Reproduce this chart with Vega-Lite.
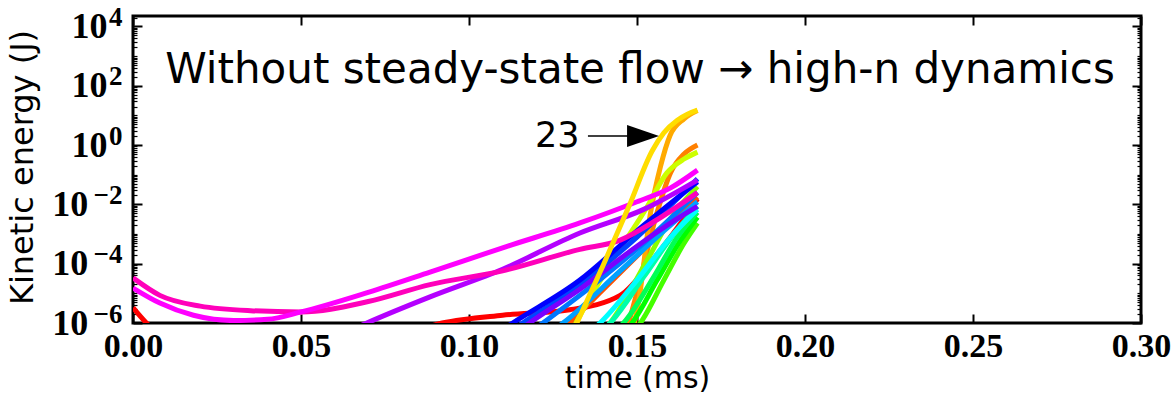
{
  "$schema": "https://vega.github.io/schema/vega-lite/v6.json",
  "width": 1008,
  "height": 307,
  "autosize": {"type": "none"},
  "padding": {"left": 133, "top": 16, "right": 33, "bottom": 81},
  "background": "white",
  "config": {"view": {"stroke": "black", "strokeWidth": 3}},
  "datasets": {
    "lines": [
      {"mode": "1", "t": 0, "E": 3.29e-6}, {"mode": "1", "t": 0.004, "E": 1.0e-6}, {"mode": "1", "t": 0.012, "E": 2.5e-7}, {"mode": "1", "t": 0.04, "E": 1.0e-7}, {"mode": "1", "t": 0.07, "E": 1.6e-7}, {"mode": "1", "t": 0.092, "E": 1.0e-6}, {"mode": "1", "t": 0.11, "E": 1.84e-6}, {"mode": "1", "t": 0.13, "E": 2.8e-6}, {"mode": "1", "t": 0.145, "E": 8.5e-6}, {"mode": "1", "t": 0.155, "E": 1.5e-4}, {"mode": "1", "t": 0.162, "E": 1.62e-3}, {"mode": "1", "t": 0.168, "E": 1.53e-2},
      {"mode": "2", "t": 0.125, "E": 2.5e-7}, {"mode": "2", "t": 0.13, "E": 1e-6}, {"mode": "2", "t": 0.14, "E": 1.38e-5}, {"mode": "2", "t": 0.152, "E": 3.04e-4}, {"mode": "2", "t": 0.16, "E": 2.35e-3}, {"mode": "2", "t": 0.168, "E": 1.76e-2},
      {"mode": "3", "t": 0.145, "E": 1e-7}, {"mode": "3", "t": 0.15, "E": 1.085e-5}, {"mode": "3", "t": 0.156, "E": 5.4e-3}, {"mode": "3", "t": 0.16, "E": 0.118}, {"mode": "3", "t": 0.164, "E": 0.5}, {"mode": "3", "t": 0.168, "E": 1.01},
      {"mode": "4", "t": 0.147, "E": 1e-7}, {"mode": "4", "t": 0.1505, "E": 5.3e-6}, {"mode": "4", "t": 0.1539, "E": 4.26e-3}, {"mode": "4", "t": 0.157, "E": 0.19}, {"mode": "4", "t": 0.1598, "E": 2.07}, {"mode": "4", "t": 0.164, "E": 7.7}, {"mode": "4", "t": 0.168, "E": 14.6},
      {"mode": "6", "t": 0.129, "E": 2.5e-7}, {"mode": "6", "t": 0.1339, "E": 2.7e-6}, {"mode": "6", "t": 0.1428, "E": 1.32e-4}, {"mode": "6", "t": 0.153, "E": 8.2e-3}, {"mode": "6", "t": 0.1589, "E": 0.116}, {"mode": "6", "t": 0.164, "E": 0.34}, {"mode": "6", "t": 0.168, "E": 0.58},
      {"mode": "7", "t": 0.138, "E": 3.2e-7}, {"mode": "7", "t": 0.142, "E": 1e-6}, {"mode": "7", "t": 0.1528, "E": 1.18e-4}, {"mode": "7", "t": 0.16, "E": 3.3e-3}, {"mode": "7", "t": 0.168, "E": 4.0e-2},
      {"mode": "8", "t": 0.147, "E": 3.2e-7}, {"mode": "8", "t": 0.151, "E": 1e-6}, {"mode": "8", "t": 0.158, "E": 2.8e-5}, {"mode": "8", "t": 0.164, "E": 4.9e-4}, {"mode": "8", "t": 0.168, "E": 2.35e-3},
      {"mode": "9", "t": 0.144, "E": 3.2e-7}, {"mode": "9", "t": 0.1485, "E": 1e-6}, {"mode": "9", "t": 0.156, "E": 2.8e-5}, {"mode": "9", "t": 0.163, "E": 6.2e-4}, {"mode": "9", "t": 0.168, "E": 3.7e-3},
      {"mode": "10", "t": 0.141, "E": 3.2e-7}, {"mode": "10", "t": 0.146, "E": 1e-6}, {"mode": "10", "t": 0.155, "E": 3.6e-5}, {"mode": "10", "t": 0.162, "E": 7.9e-4}, {"mode": "10", "t": 0.168, "E": 5.4e-3},
      {"mode": "11", "t": 0.137, "E": 3.2e-7}, {"mode": "11", "t": 0.142, "E": 1e-6}, {"mode": "11", "t": 0.152, "E": 3.6e-5}, {"mode": "11", "t": 0.161, "E": 1.0e-3}, {"mode": "11", "t": 0.168, "E": 8.6e-3},
      {"mode": "12", "t": 0.134, "E": 3.2e-7}, {"mode": "12", "t": 0.139, "E": 1e-6}, {"mode": "12", "t": 0.15, "E": 2.8e-5}, {"mode": "12", "t": 0.16, "E": 7.9e-4}, {"mode": "12", "t": 0.168, "E": 6.8e-3},
      {"mode": "13", "t": 0.122, "E": 3.2e-7}, {"mode": "13", "t": 0.128, "E": 1e-6}, {"mode": "13", "t": 0.145, "E": 5.7e-5}, {"mode": "13", "t": 0.158, "E": 1.28e-3}, {"mode": "13", "t": 0.168, "E": 1.23e-2},
      {"mode": "14", "t": 0.116, "E": 3.2e-7}, {"mode": "14", "t": 0.122, "E": 1e-6}, {"mode": "14", "t": 0.14, "E": 3.6e-5}, {"mode": "14", "t": 0.155, "E": 1.0e-3}, {"mode": "14", "t": 0.168, "E": 2.55e-2},
      {"mode": "15", "t": 0.108, "E": 2.5e-7}, {"mode": "15", "t": 0.116, "E": 1e-6}, {"mode": "15", "t": 0.133, "E": 2.0e-5}, {"mode": "15", "t": 0.15, "E": 7.9e-4}, {"mode": "15", "t": 0.168, "E": 7.3e-2},
      {"mode": "16", "t": 0.105, "E": 2.5e-7}, {"mode": "16", "t": 0.113, "E": 1e-6}, {"mode": "16", "t": 0.133, "E": 2.8e-5}, {"mode": "16", "t": 0.15, "E": 1.28e-3}, {"mode": "16", "t": 0.168, "E": 5.8e-2},
      {"mode": "17", "t": 0.112, "E": 3.2e-7}, {"mode": "17", "t": 0.118, "E": 1e-6}, {"mode": "17", "t": 0.133, "E": 1.38e-5}, {"mode": "17", "t": 0.15, "E": 3.9e-4}, {"mode": "17", "t": 0.162, "E": 3.3e-3}, {"mode": "17", "t": 0.168, "E": 8.6e-3},
      {"mode": "18", "t": 0.06, "E": 3.2e-7}, {"mode": "18", "t": 0.0696, "E": 1e-6}, {"mode": "18", "t": 0.0884, "E": 7.6e-6}, {"mode": "18", "t": 0.11, "E": 6.5e-5}, {"mode": "18", "t": 0.133, "E": 1.08e-3}, {"mode": "18", "t": 0.152, "E": 6.8e-3}, {"mode": "18", "t": 0.168, "E": 6.6e-2},
      {"mode": "20", "t": 0, "E": 3.33e-5}, {"mode": "20", "t": 0.008, "E": 8.55e-6}, {"mode": "20", "t": 0.02, "E": 3.7e-6}, {"mode": "20", "t": 0.035, "E": 2.6e-6}, {"mode": "20", "t": 0.05, "E": 2.36e-6}, {"mode": "20", "t": 0.07, "E": 5.3e-6}, {"mode": "20", "t": 0.0884, "E": 1.97e-5}, {"mode": "20", "t": 0.11, "E": 5.75e-5}, {"mode": "20", "t": 0.133, "E": 3.05e-4}, {"mode": "20", "t": 0.145, "E": 6.25e-4}, {"mode": "20", "t": 0.155, "E": 2.6e-3}, {"mode": "20", "t": 0.168, "E": 2.5e-2},
      {"mode": "19", "t": 0, "E": 1.51e-5}, {"mode": "19", "t": 0.008, "E": 4.7e-6}, {"mode": "19", "t": 0.018, "E": 1.82e-6}, {"mode": "19", "t": 0.03, "E": 1.21e-6}, {"mode": "19", "t": 0.04, "E": 1.33e-6}, {"mode": "19", "t": 0.05, "E": 2.36e-6}, {"mode": "19", "t": 0.07, "E": 1.08e-5}, {"mode": "19", "t": 0.0884, "E": 5.2e-5}, {"mode": "19", "t": 0.11, "E": 3.44e-4}, {"mode": "19", "t": 0.133, "E": 2.37e-3}, {"mode": "19", "t": 0.15, "E": 1.23e-2}, {"mode": "19", "t": 0.16, "E": 3.6e-2}, {"mode": "19", "t": 0.168, "E": 0.143},
      {"mode": "23", "t": 0.128, "E": 1e-7}, {"mode": "23", "t": 0.1321, "E": 1e-6}, {"mode": "23", "t": 0.14, "E": 9.2e-5}, {"mode": "23", "t": 0.1476, "E": 8.6e-3}, {"mode": "23", "t": 0.1545, "E": 0.63}, {"mode": "23", "t": 0.158, "E": 2.6}, {"mode": "23", "t": 0.162, "E": 6.9}, {"mode": "23", "t": 0.165, "E": 11.0}, {"mode": "23", "t": 0.168, "E": 15.0}
    ],
    "title": [
      {"label": "Without steady-state flow → high-n dynamics", "t": 0.1509, "E": 121}
    ],
    "num": [
      {"label": "23", "t": 0.1263, "E": 0.863}
    ],
    "arrow": [
      {"t": 0.1354, "t2": 0.1479, "E": 2.03}
    ],
    "head": [
      {"t": 0.1518, "E": 2.03}
    ]
  },
  "layer": [
    {
      "data": {"name": "lines"},
      "mark": {"type": "line", "strokeWidth": 5, "interpolate": "monotone", "clip": true},
      "encoding": {
        "x": {
          "field": "t", "type": "quantitative",
          "scale": {"domain": [0, 0.3], "nice": false, "zero": false},
          "axis": {
            "orient": "bottom", "values": [0, 0.05, 0.1, 0.15, 0.2, 0.25, 0.3], "format": ".2f",
            "domain": false, "grid": false,
            "labelFont": "Liberation Serif", "labelFontWeight": "bold", "labelFontSize": 34, "labelColor": "black",
            "labelFlush": false, "labelOverlap": false, "labelBound": false, "labelPadding": 15,
            "tickSize": -9, "tickWidth": 2, "tickColor": "black",
            "title": "time (ms)", "titleFont": "DejaVu Sans", "titleFontSize": 30, "titleFontWeight": "normal", "titleColor": "black",
            "titleX": 504, "titleY": 64, "titleAlign": "center", "titleBaseline": "alphabetic"
          }
        },
        "y": {
          "field": "E", "type": "quantitative",
          "scale": {"type": "log", "domain": [1e-6, 22600], "nice": false},
          "axis": {
            "orient": "left", "values": [1e-6, 0.0001, 0.01, 1, 100, 10000],
            "labelExpr": "datum.value == 1e-6 || datum.value == 0.0001 || datum.value == 0.01 ? '10\u2002\u2005\u2009\u2060' : '10\u2004\u200a\u2060'",
            "domain": false, "grid": false,
            "labelFont": "Liberation Serif", "labelFontWeight": "bold", "labelFontSize": 36, "labelColor": "black",
            "labelFlush": false, "labelOverlap": false, "labelBound": false, "labelPadding": 20, "labelBaseline": "middle",
            "tickSize": -9, "tickWidth": 2, "tickColor": "black",
            "title": "Kinetic energy (J)", "titleFont": "DejaVu Sans", "titleFontSize": 32, "titleFontWeight": "normal", "titleColor": "black",
            "titleX": -101, "titleY": 151, "titleAngle": -90, "titleAlign": "center", "titleBaseline": "alphabetic"
          }
        },
        "color": {
          "field": "mode", "type": "nominal", "legend": null,
          "scale": {
            "domain": ["1", "2", "3", "4", "6", "7", "8", "9", "10", "11", "12", "13", "14", "15", "16", "17", "18", "20", "19", "23"],
            "range": ["#ff0000", "#ff5000", "#ff8000", "#ffaa00", "#ccff00", "#88ff00", "#44ff00", "#00ff00", "#00ff55", "#00ffaa", "#00ffff", "#00a0ff", "#0077ff", "#0044ff", "#0000ff", "#7a00ff", "#b400ff", "#ff00bb", "#ff00ff", "#ffdd00"]
          }
        }
      }
    },
    {
      "data": {"name": "title"},
      "mark": {"type": "text", "font": "DejaVu Sans", "fontSize": 42, "align": "center", "baseline": "alphabetic", "color": "black"},
      "encoding": {
        "x": {"field": "t", "type": "quantitative", "scale": {"domain": [0, 0.3], "nice": false, "zero": false},
          "axis": {"orient": "top", "values": [0, 0.05, 0.1, 0.15, 0.2, 0.25, 0.3], "labels": false, "domain": false, "grid": false, "tickSize": -9, "tickWidth": 2, "tickColor": "black", "title": null}},
        "y": {"field": "E", "type": "quantitative", "scale": {"type": "log", "domain": [1e-6, 22600], "nice": false},
          "axis": {"orient": "right", "values": [1e-6, 0.0001, 0.01, 1, 100, 10000], "labels": false, "domain": false, "grid": false, "tickSize": -9, "tickWidth": 2, "tickColor": "black", "title": null}},
        "text": {"field": "label"}
      }
    },
    {
      "data": {"name": "num"},
      "mark": {"type": "text", "font": "DejaVu Sans", "fontSize": 35, "align": "center", "baseline": "alphabetic", "color": "black"},
      "encoding": {
        "x": {"field": "t", "type": "quantitative", "scale": {"domain": [0, 0.3], "nice": false, "zero": false}, "axis": null},
        "y": {"field": "E", "type": "quantitative", "scale": {"type": "log", "domain": [1e-6, 22600], "nice": false},
          "axis": {"orient": "left", "values": [2e-6, 3e-6, 4e-6, 5e-6, 6e-6, 7e-6, 8e-6, 9e-6, 1e-5, 2e-5, 3e-5, 4e-5, 5e-5, 6e-5, 7e-5, 8e-5, 9e-5, 0.0002, 0.0003, 0.0004, 0.0005, 0.0006, 0.0007, 0.0008, 0.0009, 0.001, 0.002, 0.003, 0.004, 0.005, 0.006, 0.007, 0.008, 0.009, 0.02, 0.03, 0.04, 0.05, 0.06, 0.07, 0.08, 0.09, 0.1, 0.2, 0.3, 0.4, 0.5, 0.6, 0.7, 0.8, 0.9, 2, 3, 4, 5, 6, 7, 8, 9, 10, 20, 30, 40, 50, 60, 70, 80, 90, 200, 300, 400, 500, 600, 700, 800, 900, 1000, 2000, 3000, 4000, 5000, 6000, 7000, 8000, 9000, 20000],
            "labels": false, "domain": false, "grid": false, "tickSize": -4, "tickWidth": 1.2, "tickColor": "black", "title": null}},
        "text": {"field": "label"}
      }
    },
    {
      "data": {"name": "arrow"},
      "mark": {"type": "rule", "strokeWidth": 1.5, "color": "black"},
      "encoding": {
        "x": {"field": "t", "type": "quantitative", "scale": {"domain": [0, 0.3], "nice": false, "zero": false}, "axis": null},
        "x2": {"field": "t2"},
        "y": {"field": "E", "type": "quantitative", "scale": {"type": "log", "domain": [1e-6, 22600], "nice": false},
          "axis": {"orient": "right", "values": [2e-6, 3e-6, 4e-6, 5e-6, 6e-6, 7e-6, 8e-6, 9e-6, 1e-5, 2e-5, 3e-5, 4e-5, 5e-5, 6e-5, 7e-5, 8e-5, 9e-5, 0.0002, 0.0003, 0.0004, 0.0005, 0.0006, 0.0007, 0.0008, 0.0009, 0.001, 0.002, 0.003, 0.004, 0.005, 0.006, 0.007, 0.008, 0.009, 0.02, 0.03, 0.04, 0.05, 0.06, 0.07, 0.08, 0.09, 0.1, 0.2, 0.3, 0.4, 0.5, 0.6, 0.7, 0.8, 0.9, 2, 3, 4, 5, 6, 7, 8, 9, 10, 20, 30, 40, 50, 60, 70, 80, 90, 200, 300, 400, 500, 600, 700, 800, 900, 1000, 2000, 3000, 4000, 5000, 6000, 7000, 8000, 9000, 20000],
            "labels": false, "domain": false, "grid": false, "tickSize": -4, "tickWidth": 1.2, "tickColor": "black", "title": null}}
      }
    },
    {
      "data": {"name": "head"},
      "mark": {"type": "point", "shape": "M-1,-0.6875L1,0L-1,0.6875Z", "size": 1024, "filled": true, "color": "black", "opacity": 1, "strokeWidth": 0},
      "encoding": {
        "x": {"field": "t", "type": "quantitative", "scale": {"domain": [0, 0.3], "nice": false, "zero": false}, "axis": null},
        "y": {"field": "E", "type": "quantitative", "scale": {"type": "log", "domain": [1e-6, 22600], "nice": false},
          "axis": {"orient": "left", "values": [1e-6, 0.0001, 0.01, 1, 100, 10000],
            "labelExpr": "datum.value == 1e-6 ? '−6' : datum.value == 0.0001 ? '−4' : datum.value == 0.01 ? '−2' : datum.value == 1 ? '0' : datum.value == 100 ? '2' : '4'",
            "ticks": false, "domain": false, "grid": false,
            "labelFont": "Liberation Serif", "labelFontWeight": "bold", "labelFontSize": 27, "labelColor": "black",
            "labelFlush": false, "labelOverlap": false, "labelBound": false, "labelPadding": 11, "labelAlign": "right", "labelBaseline": "middle", "labelOffset": -9,
            "title": null}}
      }
    }
  ],
  "resolve": {"axis": {"x": "independent", "y": "independent"}}
}
